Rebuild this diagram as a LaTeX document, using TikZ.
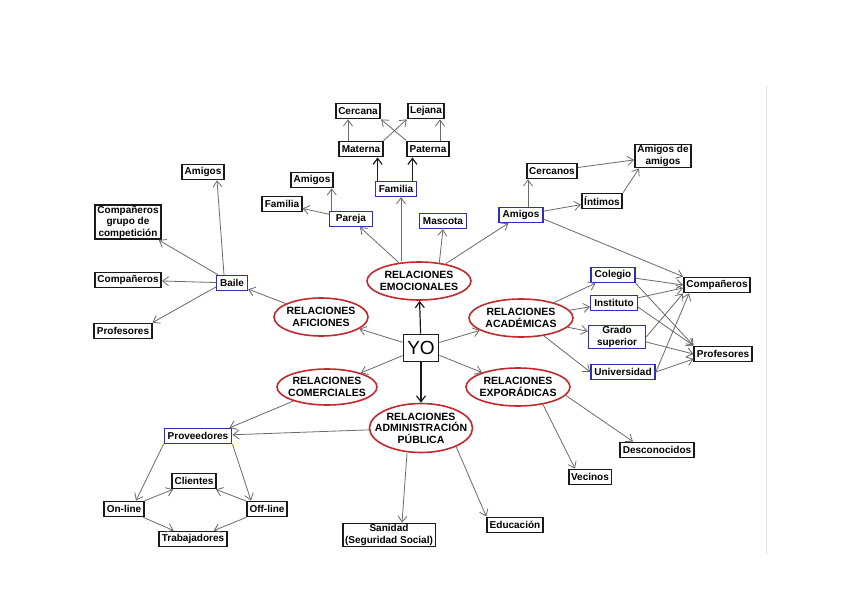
\documentclass[tikz,border=0pt]{standalone}
\usepackage{fontspec}
\setmainfont{Liberation Sans}
\usepackage{xcolor}
\definecolor{cBox}{HTML}{1A1A1A}
\definecolor{cLink}{HTML}{2F2FB4}
\definecolor{cRel}{HTML}{C3282D}
\definecolor{cLine}{HTML}{6A6A6A}
\definecolor{cDark}{HTML}{1A1A1A}
\definecolor{cFrame}{HTML}{E2E2E2}
\usepackage{tikz}
\usetikzlibrary{arrows.meta,shapes.geometric}
\tikzset{
  node-box/.style={draw=cBox,line width=1.8pt,minimum height=15pt,
    inner xsep=2.5pt,inner ysep=1pt,align=center,
    font=\bfseries\fontsize{10}{11.5}\selectfont},
  node-link/.style={node-box,draw=cLink,line width=1.4pt,inner xsep=3.5pt},
  % elipses de tamaño fijo: el inner sep negativo deja mandar a minimum width/height
  node-rel/.style={ellipse,draw=cRel,line width=1.6pt,inner sep=-30pt,
    minimum width=104pt,minimum height=38pt,align=center,
    font=\bfseries\fontsize{10.5}{11.5}\selectfont},
  node-me/.style={draw=cBox,line width=1.8pt,minimum width=35pt,
    minimum height=27pt,inner sep=3pt,font=\fontsize{19}{20}\selectfont},
  arrow/.style={-{Straight Barb[length=6pt,width=9pt]},line width=0.8pt,draw=cLine},
  arrow-main/.style={-{Straight Barb[length=6pt,width=9pt]},line width=1.2pt,draw=cDark},
}
\begin{document}
\begin{tikzpicture}[x=1pt,y=-1pt]
  \fill[white] (0,0) rectangle (848,599);
  \useasboundingbox (0,0) rectangle (848,599);
  \draw[cFrame,line width=1pt] (766,85) -- (766,555);

  \node[node-me]  (yo)  at (421,348) {YO};
  \node[node-rel] (emo) at (419,281) {RELACIONES\\EMOCIONALES};
  \node[node-rel,minimum width=94pt] (afi) at (321,317) {RELACIONES\\AFICIONES};
  \node[node-rel] (aca) at (521,318) {RELACIONES\\ACADÉMICAS};
  \node[node-rel,minimum width=100pt,minimum height=36pt] (com) at (327,387) {RELACIONES\\COMERCIALES};
  \node[node-rel] (exp) at (518,387) {RELACIONES\\EXPORÁDICAS};
  \node[node-rel,minimum width=103pt,minimum height=49pt] (adm) at (421,428) {RELACIONES\\ADMINISTRACIÓN\\PÚBLICA};

  \node[node-box]  (cercana)  at (358,111) {Cercana};
  \node[node-box]  (lejana)   at (426,111) {Lejana};
  \node[node-box]  (materna)  at (361,149) {Materna};
  \node[node-box]  (paterna)  at (428,149) {Paterna};
  \node[node-link] (familia)  at (396,189) {Familia};
  \node[node-box]  (pamigos)  at (312,180) {Amigos};
  \node[node-box]  (pfamilia) at (282,204) {Familia};
  \node[node-link,minimum width=43pt] (pareja) at (351,219) {Pareja};
  \node[node-link] (mascota)  at (443,221) {Mascota};

  \node[node-box]  (bamigos) at (203,172) {Amigos};
  \node[node-box]  (bgrupo)  at (128,222) {Compañeros\\grupo de\\competición};
  \node[node-box]  (bcomp)   at (128,280) {Compañeros};
  \node[node-link] (baile)   at (232,283) {Baile};
  \node[node-box]  (bprof)   at (123,331) {Profesores};

  \node[node-box]  (cercanos) at (552,171) {Cercanos};
  \node[node-box]  (ada)      at (663,156) {Amigos de\\amigos};
  \node[node-box]  (intimos)  at (602,201) {Íntimos};
  \node[node-link] (eamigos)  at (521,215) {Amigos};
  \node[node-link] (colegio)  at (613,275) {Colegio};
  \node[node-box]  (compr)    at (717,285) {Compañeros};
  \node[node-link] (inst)     at (614,303) {Instituto};
  \node[node-link,minimum width=57pt] (grado) at (617,337) {Grado\\superior};
  \node[node-box]  (profr)    at (723,354) {Profesores};
  \node[node-link] (univ)     at (623,372) {Universidad};

  \node[node-link] (prov)     at (198,436) {Proveedores};
  \node[node-box]  (clientes) at (194,481) {Clientes};
  \node[node-box]  (online)   at (124,509) {On-line};
  \node[node-box]  (offline)  at (267,509) {Off-line};
  \node[node-box]  (trab)     at (193,539) {Trabajadores};
  \node[node-box]  (sanidad)  at (389,535) {Sanidad\\(Seguridad Social)};
  \node[node-box]  (educ)     at (515,525) {Educación};
  \node[node-box]  (desc)     at (657,450) {Desconocidos};
  \node[node-box]  (vecinos)  at (590,477) {Vecinos};

  \draw[arrow-main] (yo) -- (emo);
  \draw[arrow-main] (yo) -- (adm);
  \draw[arrow] (yo) -- (afi);
  \draw[arrow] (yo) -- (aca);
  \draw[arrow] (yo) -- (com);
  \draw[arrow] (yo) -- (exp);

  \draw[arrow] (emo) -- (pareja);
  \draw[arrow] ([xshift=5pt]familia.south |- emo.north) -- ([xshift=5pt]familia.south);
  \draw[arrow] (emo.42) -- (mascota.south);
  \draw[arrow] (emo) -- (eamigos);
  \draw[arrow] (pareja) -- (pfamilia);
  \draw[arrow] ([xshift=-2pt]pamigos.south east |- pareja.north) -- ([xshift=-2pt]pamigos.south east);
  \draw[arrow-main] ([xshift=3pt]familia.north west) -- ([xshift=3pt]familia.north west |- materna.south);
  \draw[arrow-main] ([xshift=-5pt]familia.north east) -- ([xshift=-5pt]familia.north east |- paterna.south);
  \draw[arrow] ([xshift=-13pt]materna.north) -- ([xshift=-13pt]materna.north |- cercana.south);
  \draw[arrow] ([xshift=12pt]paterna.north) -- ([xshift=12pt]paterna.north |- lejana.south);
  \draw[arrow] (materna.north east) -- (lejana.south west);
  \draw[arrow] (paterna.north west) -- (cercana.south east);

  \draw[arrow] (afi) -- (baile);
  \draw[arrow] ([xshift=-8pt]baile.north) -- ([xshift=14pt]bamigos.south);
  \draw[arrow] (baile) -- (bgrupo);
  \draw[arrow] (baile) -- (bcomp);
  \draw[arrow] ([yshift=-4pt]baile.west) -- (bprof.north east);

  \draw[arrow] ([xshift=7pt]eamigos.north) -- ([xshift=7pt]eamigos.north |- cercanos.south);
  \draw[arrow] (eamigos) -- (intimos);
  \draw[arrow] (cercanos) -- (ada);
  \draw[arrow] (intimos.north east) -- ([xshift=5pt]ada.south west);
  \draw[arrow] ([yshift=-4pt]eamigos.east) -- (compr.north west);

  \draw[arrow] (aca) -- (colegio);
  \draw[arrow] (aca) -- (inst);
  \draw[arrow] (aca) -- (grado);
  \draw[arrow] (aca) -- (univ.west);
  \draw[arrow] (colegio) -- (compr.west);
  \draw[arrow] (colegio.south east) -- (profr.north west);
  \draw[arrow] (inst) -- ([yshift=-3pt]compr.west);
  \draw[arrow] ([yshift=-4pt]inst.east) -- (profr.north west);
  \draw[arrow] (grado.east) -- (compr.south west);
  \draw[arrow] ([yshift=-5pt]grado.east) -- (profr.west);
  \draw[arrow] (univ.east) -- ([xshift=6pt]compr.south west);
  \draw[arrow] (univ.east) -- ([yshift=-5pt]profr.west);

  \draw[arrow] (com) -- ([xshift=-3pt]prov.north east);
  \draw[arrow] (adm) -- (prov);
  \draw[arrow] (prov.south west) -- ([xshift=12pt]online.north);
  \draw[arrow] (prov.south east) -- ([xshift=-16pt]offline.north);
  \draw[arrow] (online) -- (clientes);
  \draw[arrow] (offline) -- (clientes);
  \draw[arrow] (online) -- (trab);
  \draw[arrow] (offline) -- (trab);
  \draw[arrow] ([xshift=-14pt]adm.south) -- ([xshift=13pt]sanidad.north);
  \draw[arrow] (adm.-28) -- (educ.north west);

  \draw[arrow] (exp.-35) -- ([xshift=-15pt]vecinos.north);
  \draw[arrow] (exp.-10) -- ([xshift=-24pt]desc.north);
\end{tikzpicture}
\end{document}
